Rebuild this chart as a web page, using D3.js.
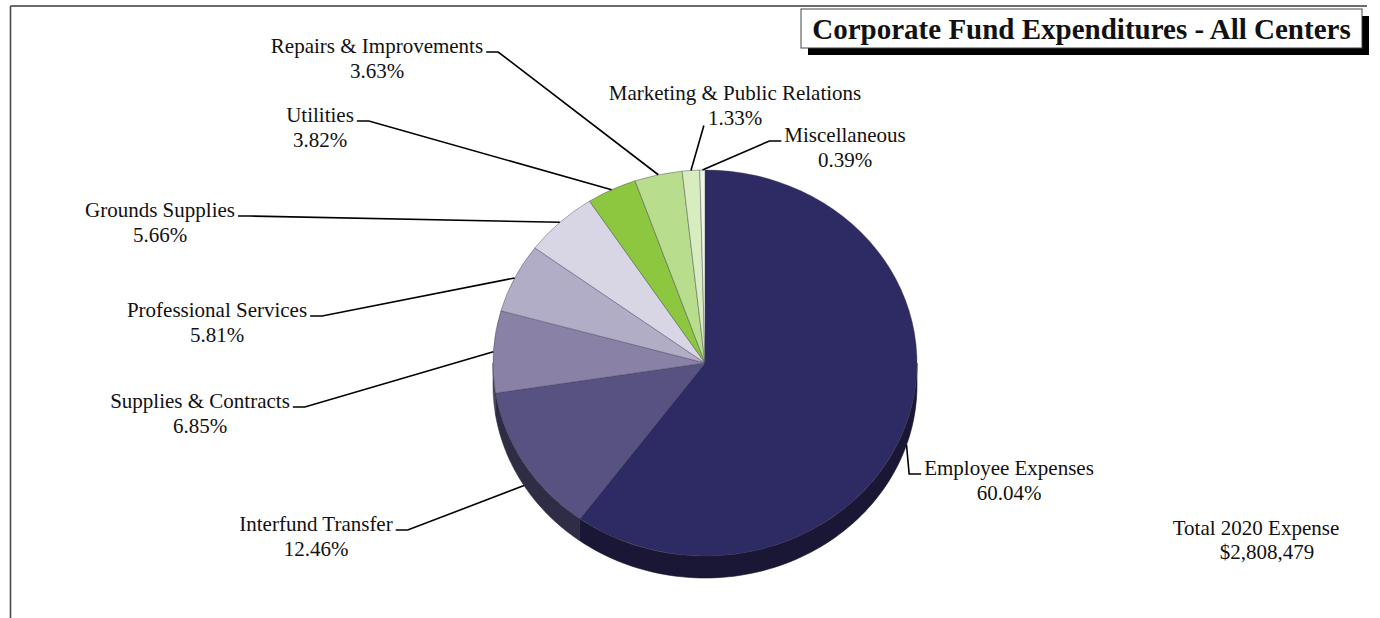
<!DOCTYPE html>
<html>
<head>
<meta charset="utf-8">
<script src="https://cdn.jsdelivr.net/npm/d3@7"></script>
<style>
  html, body { margin: 0; padding: 0; background: #fff; }
  svg { display: block; }
  text { font-family: "Liberation Serif", "Times New Roman", serif; fill: #111; }
</style>
</head>
<body>
<svg id="chart" width="1380" height="618"></svg>
<script>
// ---- data ----
const categories = [
  "Employee Expenses", "Interfund Transfer", "Supplies & Contracts",
  "Professional Services", "Grounds Supplies", "Utilities",
  "Repairs & Improvements", "Marketing & Public Relations", "Miscellaneous"
];
const shares = [60.04, 12.46, 6.85, 5.81, 5.66, 3.82, 3.63, 1.33, 0.39];
const sliceColors = [
  "#2e2a64", "#575282", "#8a82a6", "#b2adc7", "#d8d5e5",
  "#8dc63f", "#b8dd8c", "#d7ecbf", "#eef6e6"
];
const titleText = "Corporate Fund Expenditures - All Centers";
const totalLabel = "Total 2020 Expense";
const totalValue = 2808479;

// ---- label placement (centre x / baseline of the category line, leader attachment) ----
const labelLayout = [
  { x: 1009, y: 475, attach: "start" },
  { x: 316,  y: 531, attach: "end" },
  { x: 200,  y: 408, attach: "end" },
  { x: 217,  y: 317, attach: "end" },
  { x: 160,  y: 217, attach: "end" },
  { x: 320,  y: 122, attach: "end" },
  { x: 377,  y: 53,  attach: "end" },
  { x: 735,  y: 100, attach: "pct" },
  { x: 845,  y: 142, attach: "start" }
];

// ---- geometry ----
const W = 1380, H = 618;
const cx = 705, cy = 363, rx = 212, ry = 193, depth = 22;
const labelSize = 21, lineGap = 24.5;

const svg = d3.select("#chart");

// frame (top and left rules)
svg.append("line").attr("x1", 10.5).attr("y1", 6).attr("x2", 1367).attr("y2", 6)
  .attr("stroke", "#3a3a3a").attr("stroke-width", 1.3);
svg.append("line").attr("x1", 10.5).attr("y1", 6).attr("x2", 10.5).attr("y2", H)
  .attr("stroke", "#4a4a4a").attr("stroke-width", 1.6);

const data = categories.map((c, i) => ({ name: c, value: shares[i], color: sliceColors[i] }));
const pie = d3.pie().sort(null).value(d => d.value);
const arcs = pie(data);

// point on the elliptical rim for an angle measured clockwise from 12 o'clock
const rim = (a, dy = 0) => [cx + rx * Math.sin(a), cy - ry * Math.cos(a) + dy];

// ---- side walls (front half only) ----
const sideG = svg.append("g");
const lineGen = d3.line();
arcs.forEach(d => {
  const a0 = Math.max(d.startAngle, Math.PI / 2);
  const a1 = Math.min(d.endAngle, 3 * Math.PI / 2);
  if (a1 <= a0) return;
  const steps = 80;
  const angs = d3.range(steps + 1).map(k => a0 + (a1 - a0) * k / steps);
  const pts = angs.map(a => rim(a)).concat(angs.slice().reverse().map(a => rim(a, depth)));
  sideG.append("path")
    .attr("d", lineGen(pts) + "Z")
    .attr("fill", d3.color(d.data.color).darker(1.75))
    .attr("stroke", d3.color(d.data.color).darker(2.2))
    .attr("stroke-width", 0.6);
});

// ---- top face ----
const arcGen = d3.arc().innerRadius(0).outerRadius(rx);
const topG = svg.append("g")
  .attr("transform", `translate(${cx},${cy}) scale(1,${ry / rx})`);
topG.selectAll("path").data(arcs).join("path")
  .attr("d", arcGen)
  .attr("fill", d => d.data.color)
  .attr("stroke", "#3d3b4e")
  .attr("stroke-opacity", 0.7)
  .attr("stroke-width", 0.6)
  .attr("vector-effect", "non-scaling-stroke");

// ---- labels & leaders ----
const pctFmt = v => d3.format(".2f")(v) + "%";
const labelG = svg.append("g");
const leaderG = svg.append("g");

arcs.forEach((d, i) => {
  const L = labelLayout[i];
  const t1 = labelG.append("text")
    .attr("x", L.x).attr("y", L.y)
    .attr("text-anchor", "middle")
    .attr("font-size", labelSize)
    .text(d.data.name);
  const t2 = labelG.append("text")
    .attr("x", L.x).attr("y", L.y + lineGap)
    .attr("text-anchor", "middle")
    .attr("font-size", labelSize)
    .text(pctFmt(d.data.value));

  const w1 = t1.node().getComputedTextLength();
  const w2 = t2.node().getComputedTextLength();
  const mid = (d.startAngle + d.endAngle) / 2;
  const tip = rim(mid, Math.cos(mid) < 0 ? depth : 0);

  let pts;
  if (L.attach === "end") {
    const xr = L.x + w1 / 2;
    pts = [[xr + 3, L.y - 1], [xr + 15, L.y - 1], tip];
  } else if (L.attach === "start") {
    const xl = L.x - w1 / 2;
    pts = [[xl - 3, L.y - 1], [xl - 15, L.y - 1], tip];
  } else {
    const xl = L.x - w2 / 2;
    pts = [[xl - 4, L.y + lineGap + 1], tip];
  }
  leaderG.append("path")
    .attr("d", lineGen(pts))
    .attr("fill", "none")
    .attr("stroke", "#000")
    .attr("stroke-width", 1.6);
});

// ---- title box with drop shadow ----
const tb = { x: 801, y: 9, w: 561, h: 39, off: 7 };
svg.append("rect").attr("x", tb.x + tb.off).attr("y", tb.y + tb.off)
  .attr("width", tb.w).attr("height", tb.h).attr("fill", "#000");
svg.append("rect").attr("x", tb.x).attr("y", tb.y)
  .attr("width", tb.w).attr("height", tb.h)
  .attr("fill", "#fff").attr("stroke", "#444").attr("stroke-width", 1);
svg.append("text")
  .attr("x", tb.x + tb.w / 2).attr("y", tb.y + 30)
  .attr("text-anchor", "middle")
  .attr("font-size", 29).attr("font-weight", "bold")
  .text(titleText);

// ---- total ----
svg.append("text")
  .attr("x", 1256).attr("y", 535)
  .attr("text-anchor", "middle").attr("font-size", labelSize)
  .text(totalLabel);
svg.append("text")
  .attr("x", 1267).attr("y", 559)
  .attr("text-anchor", "middle").attr("font-size", labelSize)
  .text(d3.format("$,")(totalValue));
</script>
</body>
</html>
